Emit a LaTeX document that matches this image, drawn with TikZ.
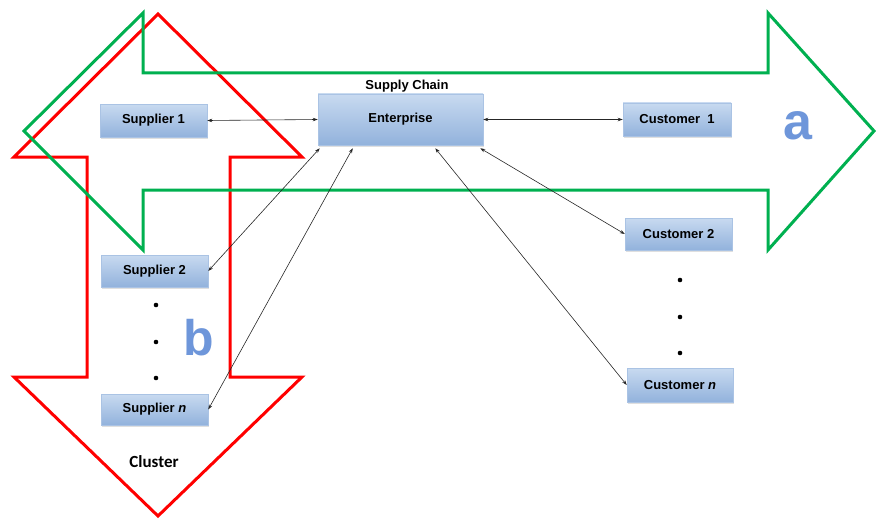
\documentclass[tikz,border=0pt]{standalone}
\usepackage{fontspec}
\setmainfont{Liberation Sans}
\newfontfamily\clusterfont{Carlito}
\usetikzlibrary{arrows.meta,shadows,calc}
\definecolor{boxtop}{RGB}{200,218,240}
\definecolor{boxbot}{RGB}{146,178,220}
\definecolor{boxedge}{RGB}{170,195,228}
\definecolor{chaingreen}{RGB}{0,176,80}
\definecolor{clusterred}{RGB}{255,0,0}
\definecolor{letterblue}{RGB}{110,150,218}
\tikzset{
  unitbox/.style={draw=boxedge, line width=0.5pt, top color=boxtop, bottom color=boxbot,
    drop shadow={opacity=0.25, shadow xshift=1pt, shadow yshift=-1.5pt},
    font=\fontsize{13}{15}\selectfont\bfseries, inner sep=0pt},
  link/.style={<->, >={Stealth[length=5pt,width=3.5pt]}, line width=0.6pt, black!85},
  bigarrow/.style={line width=3pt, line join=miter}
}
\begin{document}
\begin{tikzpicture}[x=1pt,y=-1pt]
  \useasboundingbox (0,0) rectangle (876,519);
  \coordinate (RT) at (158,14);
  \coordinate (RB) at (158,516);
  \draw[bigarrow, clusterred] (RT) -- (302,157) -- (230,157) -- (230,377) -- (302,377) -- (RB)
     -- (14,377) -- (87,377) -- (87,157) -- (14,157) -- cycle;
  \coordinate (GL) at (24,131);
  \coordinate (GR) at (874,131);
  \draw[bigarrow, chaingreen] (GL) -- (143,13) -- (143,73) -- (768,73) -- (768,13) -- (GR)
     -- (768,250) -- (768,190) -- (143,190) -- (143,250) -- cycle;

  \node[unitbox, minimum width=107, minimum height=33] (s1) at (153.5,120.5) {Supplier 1};
  \node[unitbox, minimum width=165, minimum height=51] (ent) at (400.5,119.5) {Enterprise};
  \node[unitbox, minimum width=108, minimum height=33] (c1) at (677,119.5) {Customer~~1};
  \node[unitbox, minimum width=107, minimum height=32] (s2) at (154.5,271) {Supplier 2};
  \node[unitbox, minimum width=107, minimum height=31] (sn) at (154.5,409.5) {Supplier \textit{n}};
  \node[unitbox, minimum width=107, minimum height=32] (c2) at (678.5,234) {Customer 2};
  \node[unitbox, minimum width=106, minimum height=34] (cn) at (680,385) {Customer \textit{n}};

  \node[font=\fontsize{13}{15}\selectfont\bfseries] (chain) at (407,86) {Supply Chain};
  \node[font=\clusterfont\fontsize{17}{19}\selectfont\bfseries] (cluster) at (154,462) {Cluster};
  \node[font=\fontsize{52}{52}\selectfont\bfseries, text=letterblue] (la) at (798,126) {a};
  \node[font=\fontsize{50}{50}\selectfont\bfseries, text=letterblue] (lb) at (199,338) {b};

  \foreach \y in {305,342,378} \fill (156,\y) circle (2.3pt);
  \foreach \y in {280,317,353} \fill (680,\y) circle (2.3pt);

  \draw[link] (s1.east) -- (ent.west);
  \draw[link] (ent.east) -- (c1.west);
  \draw[link] ([xshift=2pt,yshift=-3pt]ent.south west) -- (s2.east);
  \draw[link] ([xshift=35pt,yshift=-3pt]ent.south west) -- (sn.east);
  \draw[link] ([xshift=-48pt,yshift=-3pt]ent.south east) -- (cn.west);
  \draw[link] ([xshift=-3pt,yshift=-3pt]ent.south east) -- (c2.west);
\end{tikzpicture}
\end{document}
